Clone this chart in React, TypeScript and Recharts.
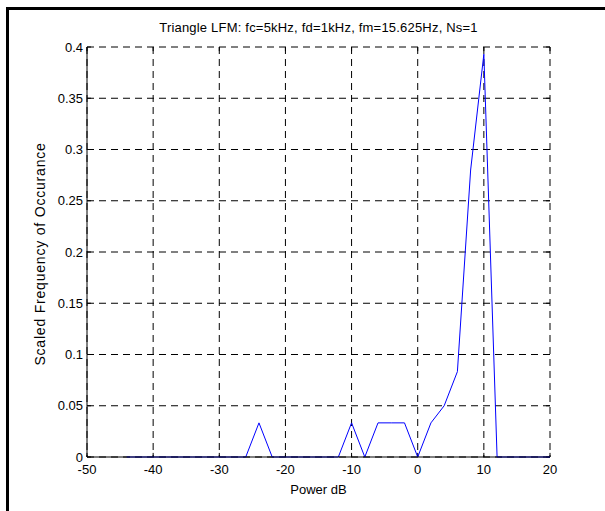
import React from "react";
import {
    LineChart,
    Line,
    XAxis,
    YAxis,
    CartesianGrid,
    ReferenceLine,
    Label,
} from "recharts";

// power bins (dB) and the scaled frequency of each one
const powerDb = [
    -44, -42, -40, -38, -36, -34, -32, -30, -28, -26, -24, -22, -20, -18, -16,
    -14, -12, -10, -8, -6, -4, -2, 0, 2, 4, 6, 8, 10, 12, 14, 16, 18, 20,
];
const frequency = [
    0, 0, 0, 0, 0, 0, 0, 0, 0, 0, 0.0333, 0, 0, 0, 0,
    0, 0, 0.0333, 0, 0.0333, 0.0333, 0.0333, 0, 0.0333, 0.05, 0.0833, 0.28, 0.393, 0, 0, 0, 0, 0,
];

const xTicks = [-50, -40, -30, -20, -10, 0, 10, 20];
const yTicks = [0, 0.05, 0.1, 0.15, 0.2, 0.25, 0.3, 0.35, 0.4];

const data = powerDb.map((p, i) => ({ power: p, freq: frequency[i] }));

const font = "Arial, 'Liberation Sans', Helvetica, sans-serif";
const tickStyle = { fontSize: 13, fill: "#000", fontFamily: font };

// matlab style inward ticks, length in data units
const xTickLen = 0.6;
const yTickLen = 0.004;

export default function App() {
    return (
        <div
            style={{
                position: "absolute",
                left: 0,
                top: 0,
                width: 605,
                height: 511,
                background: "#fff",
                fontFamily: font,
            }}
        >
            <div
                style={{
                    position: "absolute",
                    left: 6,
                    top: 7,
                    right: 0,
                    bottom: 0,
                    borderTop: "3px solid #000",
                    borderLeft: "3px solid #000",
                }}
            />
            <div
                style={{
                    position: "absolute",
                    left: 87,
                    width: 463,
                    top: 20,
                    textAlign: "center",
                    fontSize: 13,
                    letterSpacing: 0.2,
                    color: "#000",
                }}
            >
                Triangle LFM: fc=5kHz, fd=1kHz, fm=15.625Hz, Ns=1
            </div>
            <LineChart
                width={605}
                height={511}
                data={data}
                margin={{ top: 47, right: 55, left: 27, bottom: 14 }}
                style={{ position: "absolute", left: 0, top: 0 }}
            >
                <CartesianGrid stroke="#000" strokeDasharray="7 5" />
                <XAxis
                    dataKey="power"
                    type="number"
                    domain={[-50, 20]}
                    ticks={xTicks}
                    interval={0}
                    height={40}
                    tickSize={0}
                    tickMargin={8}
                    tick={tickStyle}
                    axisLine={{ stroke: "#000" }}
                >
                    <Label
                        value="Power dB"
                        position="insideBottom"
                        offset={3}
                        style={{ fontSize: 13, fill: "#000", fontFamily: font }}
                    />
                </XAxis>
                <YAxis
                    type="number"
                    domain={[0, 0.4]}
                    ticks={yTicks}
                    interval={0}
                    width={60}
                    tickSize={0}
                    tickMargin={4}
                    tick={tickStyle}
                    axisLine={{ stroke: "#000" }}
                >
                    <Label
                        content={() => {
                            const cx = 40;
                            const cy = 254;
                            return (
                                <text
                                    x={cx}
                                    y={cy}
                                    transform={`rotate(-90 ${cx} ${cy})`}
                                    textAnchor="middle"
                                    dominantBaseline="central"
                                    style={{
                                        fontSize: 14,
                                        letterSpacing: 0.8,
                                        fill: "#000",
                                        fontFamily: font,
                                    }}
                                >
                                    Scaled Frequency of Occurance
                                </text>
                            );
                        }}
                    />
                </YAxis>
                {xTicks.map((t) => (
                    <ReferenceLine
                        key={"xb" + t}
                        segment={[{ x: t, y: 0 }, { x: t, y: yTickLen }]}
                        stroke="#000"
                    />
                ))}
                {xTicks.map((t) => (
                    <ReferenceLine
                        key={"xt" + t}
                        segment={[{ x: t, y: 0.4 }, { x: t, y: 0.4 - yTickLen }]}
                        stroke="#000"
                    />
                ))}
                {yTicks.map((t) => (
                    <ReferenceLine
                        key={"yl" + t}
                        segment={[{ x: -50, y: t }, { x: -50 + xTickLen, y: t }]}
                        stroke="#000"
                    />
                ))}
                {yTicks.map((t) => (
                    <ReferenceLine
                        key={"yr" + t}
                        segment={[{ x: 20, y: t }, { x: 20 - xTickLen, y: t }]}
                        stroke="#000"
                    />
                ))}
                <Line
                    type="linear"
                    dataKey="freq"
                    stroke="#0000ff"
                    strokeWidth={1}
                    dot={false}
                    isAnimationActive={false}
                />
            </LineChart>
        </div>
    );
}
